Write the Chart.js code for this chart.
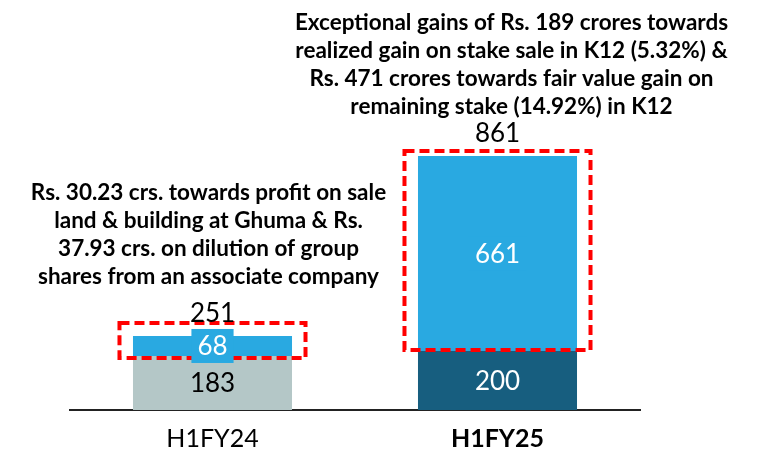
<!DOCTYPE html>
<html>
<head>
<meta charset="utf-8">
<script src="https://cdn.jsdelivr.net/npm/chart.js@4.4.1/dist/chart.umd.min.js"></script>
<style>
  html, body { margin: 0; padding: 0; background: #fff; }
  #wrap { width: 758px; height: 454px; }
</style>
</head>
<body>
<div id="wrap"><canvas id="gainsChart"></canvas></div>
<script>
// values in Rs. crores
const categories = ["H1FY24", "H1FY25"];
const baseValues = [183, 200];
const exceptionalValues = [68, 661];
const totals = [251, 861];

const notes = [
    ["Rs. 30.23 crs. towards profit on sale",
     "land & building at Ghuma & Rs.",
     "37.93 crs. on dilution of group",
     "shares from an associate company"],
    ["Exceptional gains of Rs. 189 crores towards",
     "realized gain on stake sale in K12 (5.32%) &",
     "Rs. 471 crores towards fair value gain on",
     "remaining stake (14.92%) in K12"]
];

const baseColors = ["#b4c7c7", "#175e7f"];
const baseTextColors = ["#000000", "#ffffff"];
const exceptionalColor = "#29a9e1";
const FONT = "Lato, 'Open Sans', sans-serif";

const overlayPlugin = {
    id: "overlay",
    afterDatasetsDraw(chart) {
        const ctx = chart.ctx;
        const baseBars = chart.getDatasetMeta(0).data;
        const excBars = chart.getDatasetMeta(1).data;
        ctx.save();

        // red dashed boxes round the exceptional part
        const padTop = [13, 5], padBottom = [2, -1];
        ctx.strokeStyle = "#ff0000";
        ctx.lineWidth = 4;
        ctx.setLineDash([10, 5]);
        excBars.forEach((bar, i) => {
            const w = bar.width + 27;
            const x0 = bar.x - w / 2;
            const y0 = bar.y - padTop[i];
            const y1 = bar.base + padBottom[i];
            ctx.strokeRect(x0, y0, w, y1 - y0);
        });
        ctx.setLineDash([]);

        ctx.textAlign = "center";
        ctx.textBaseline = "middle";
        ctx.font = `26px ${FONT}`;

        // base values
        baseBars.forEach((bar, i) => {
            ctx.fillStyle = baseTextColors[i];
            ctx.fillText(String(baseValues[i]), bar.x, (bar.y + bar.base) / 2 + 1);
        });

        // exceptional values, with a label box in the bar colour
        excBars.forEach((bar, i) => {
            const txt = String(exceptionalValues[i]);
            const cy = (bar.y + bar.base) / 2;
            const tw = ctx.measureText(txt).width;
            ctx.fillStyle = exceptionalColor;
            ctx.fillRect(bar.x - tw / 2 - 6, cy - 17, tw + 12, 34);
            ctx.fillStyle = "#ffffff";
            ctx.fillText(txt, bar.x, cy + 1);
        });

        // totals above stacks
        ctx.textBaseline = "alphabetic";
        ctx.fillStyle = "#000000";
        excBars.forEach((bar, i) => {
            ctx.fillText(String(totals[i]), bar.x, bar.y - 14);
        });

        // notes
        ctx.font = `bold 22.5px ${FONT}`;
        const noteShift = [-4, 14];
        const noteGap = [52, 42];
        notes.forEach((lines, i) => {
            const bar = excBars[i];
            const lastY = bar.y - noteGap[i];
            lines.forEach((line, j) => {
                ctx.fillText(line, bar.x + noteShift[i], lastY - (lines.length - 1 - j) * 28);
            });
        });
        ctx.restore();
    }
};

new Chart(document.getElementById("gainsChart").getContext("2d"), {
    type: "bar",
    data: {
        labels: categories,
        datasets: [
            { label: "Base", data: baseValues, backgroundColor: baseColors },
            { label: "Exceptional", data: exceptionalValues, backgroundColor: exceptionalColor }
        ]
    },
    options: {
        responsive: true,
        maintainAspectRatio: false,
        animation: false,
        layout: { padding: { left: 70, right: 118, top: 115, bottom: -14 } },
        datasets: { bar: { barPercentage: 0.558, categoryPercentage: 1 } },
        plugins: { legend: { display: false }, tooltip: { enabled: false } },
        scales: {
            x: {
                stacked: true,
                grid: { display: false, drawTicks: false },
                border: { display: true, color: "#222222", width: 2 },
                ticks: {
                    padding: 14,
                    color: "#000000",
                    font: (c) => ({ family: FONT, size: 25, weight: c.index === 1 ? "bold" : "normal" })
                }
            },
            y: { stacked: true, display: false, min: 0, max: 1000 }
        }
    },
    plugins: [overlayPlugin]
});
</script>
</body>
</html>
